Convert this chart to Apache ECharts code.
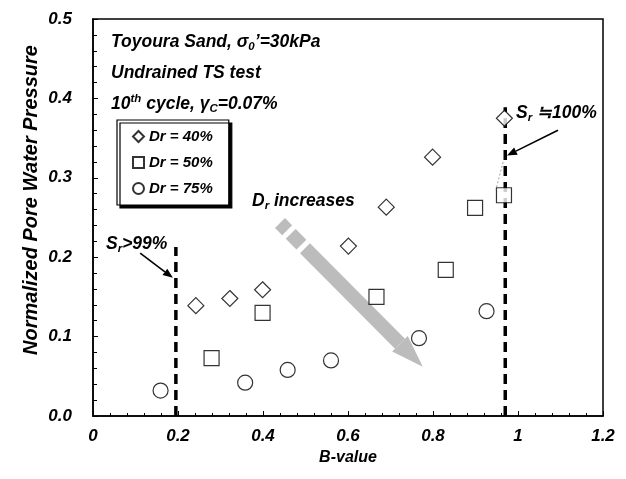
<!DOCTYPE html>
<html><head><meta charset="utf-8">
<script src="https://cdn.jsdelivr.net/npm/echarts@6/dist/echarts.min.js"></script>
<style>html,body{margin:0;padding:0;background:#fff}#c{width:626px;height:479px}</style>
</head><body><div id="c"></div>
<script>
// ---- data ----
const seriesNames = ['Dr = 40%', 'Dr = 50%', 'Dr = 75%'];
const dr40B = [0.242, 0.322, 0.399, 0.601, 0.690, 0.799, 0.968];
const dr40P = [0.139, 0.148, 0.159, 0.214, 0.263, 0.326, 0.375];
const dr50B = [0.279, 0.399, 0.667, 0.830, 0.899, 0.967];
const dr50P = [0.073, 0.130, 0.150, 0.184, 0.262, 0.278];
const dr75B = [0.159, 0.358, 0.458, 0.560, 0.767, 0.926];
const dr75P = [0.032, 0.042, 0.058, 0.070, 0.098, 0.132];
const xTicks = [0, 0.2, 0.4, 0.6, 0.8, 1, 1.2];
const yTicks = [0, 0.1, 0.2, 0.3, 0.4, 0.5];
const srLineB = [0.195, 0.97];
const srLineTop = [0.213, 0.389];
// annotation anchors (data coordinates)
const arrowSr99 = [[0.111, 0.205], [0.188, 0.174]];
const arrowSr100 = [[1.094, 0.360], [0.974, 0.328]];
const arrowDr = [[0.440, 0.243], [0.776, 0.062]];

const FF = "'Liberation Sans', Arial, sans-serif";
const chart = echarts.init(document.getElementById('c'), null, {renderer: 'canvas'});
const zip = (a, b) => a.map((v, i) => [v, b[i]]);
const sym = {color: '#fff', borderColor: '#000', borderWidth: 1.2};
const bi = (size) => ({fontFamily: FF, fontSize: size, fontWeight: 'bold', fontStyle: 'italic', color: '#000'});

chart.setOption({
  animation: false,
  backgroundColor: '#fff',
  grid: {left: 93, right: 23, top: 19, bottom: 63, show: true, borderColor: '#000', borderWidth: 1.5, backgroundColor: 'transparent'},
  xAxis: {
    type: 'value', min: xTicks[0], max: xTicks[xTicks.length - 1], interval: 0.2,
    name: 'B-value', nameLocation: 'middle', nameGap: 34,
    nameTextStyle: bi(16),
    axisLine: {lineStyle: {color: '#000', width: 1.5}},
    axisTick: {inside: true, length: 5, lineStyle: {color: '#000'}},
    minorTick: {show: true, splitNumber: 5, length: 3, lineStyle: {color: '#000'}},
    splitLine: {show: false},
    axisLabel: Object.assign({margin: 12, formatter: v => String(Number(v.toFixed(1)))}, bi(17))
  },
  yAxis: {
    type: 'value', min: yTicks[0], max: yTicks[yTicks.length - 1], interval: 0.1,
    axisLine: {lineStyle: {color: '#000', width: 1.5}},
    axisTick: {inside: true, length: 5, lineStyle: {color: '#000'}},
    minorTick: {show: true, splitNumber: 5, length: 4, lineStyle: {color: '#000'}},
    splitLine: {show: false},
    axisLabel: Object.assign({margin: 21, formatter: v => v.toFixed(1)}, bi(17))
  },
  legend: {
    orient: 'vertical', left: 117, top: 120,
    padding: [9, 16, 9, 15], itemGap: 11, itemWidth: 11, itemHeight: 11,
    backgroundColor: '#fff', borderColor: '#000', borderWidth: 1.2,
    shadowColor: '#000', shadowOffsetX: 3, shadowOffsetY: 3, shadowBlur: 0,
    data: seriesNames,
    textStyle: bi(15)
  },
  series: [
    {type: 'line', data: [[srLineB[0], 0], [srLineB[0], srLineTop[0]]], symbol: 'none', silent: true,
      lineStyle: {color: '#000', width: 3.5, type: [10, 6]}},
    {type: 'line', data: [[srLineB[1], 0], [srLineB[1], srLineTop[1]]], symbol: 'none', silent: true,
      lineStyle: {color: '#000', width: 3.5, type: [10, 6]}},
    {name: seriesNames[0], type: 'scatter', symbol: 'diamond', symbolSize: 16, data: zip(dr40B, dr40P), itemStyle: sym, z: 5},
    {name: seriesNames[1], type: 'scatter', symbol: 'rect', symbolSize: 15, data: zip(dr50B, dr50P), itemStyle: sym, z: 5},
    {name: seriesNames[2], type: 'scatter', symbol: 'circle', symbolSize: 15, data: zip(dr75B, dr75P), itemStyle: sym, z: 5}
  ]
});

const ARROW_GREY = '#bcbcbc';
const px = p => chart.convertToPixel({gridIndex: 0}, p);
function blackArrow(a) {
  const p0 = px(a[0]), p1 = px(a[1]);
  const dx = p1[0] - p0[0], dy = p1[1] - p0[1], L = Math.hypot(dx, dy);
  const ux = dx / L, uy = dy / L, nx = -uy, ny = ux, hl = 10, hw = 4;
  const bx = p1[0] - ux * hl, by = p1[1] - uy * hl;
  return [
    {type: 'line', shape: {x1: p0[0], y1: p0[1], x2: bx, y2: by}, style: {stroke: '#000', lineWidth: 1.6}, z: 20},
    {type: 'polygon', shape: {points: [[p1[0], p1[1]], [bx + nx * hw, by + ny * hw], [bx - nx * hw, by - ny * hw]]}, style: {fill: '#000'}, z: 20}
  ];
}
function greyArrow(a) {
  const p0 = px(a[0]), p1 = px(a[1]);
  const dx = p1[0] - p0[0], dy = p1[1] - p0[1], L = Math.hypot(dx, dy);
  const ux = dx / L, uy = dy / L, nx = -uy, ny = ux, w = 7;
  const at = (t, o) => [p0[0] + ux * L * t + nx * o, p0[1] + uy * L * t + ny * o];
  const piece = (t0, t1) => ({type: 'polygon', shape: {points: [at(t0, -w), at(t1, -w), at(t1, w), at(t0, w)]},
    style: {fill: ARROW_GREY}, z: 3});
  const th = 0.84;
  return [
    piece(0, 0.05), piece(0.075, 0.15), piece(0.175, th),
    {type: 'polygon', shape: {points: [at(th, -11), at(1, 0), at(th, 11)]}, style: {fill: ARROW_GREY}, z: 3}
  ];
}
const base = {fontFamily: FF, fontSize: 17.5, fontWeight: 'bold', fontStyle: 'italic', fill: '#000'};
const rich = {
  a: {fontFamily: FF, fontSize: 17.5, fontWeight: 'bold', fontStyle: 'italic', lineHeight: 22},
  sub: {fontFamily: FF, fontSize: 11.5, fontWeight: 'bold', fontStyle: 'italic', lineHeight: 12, verticalAlign: 'bottom'},
  sup: {fontFamily: FF, fontSize: 11.5, fontWeight: 'bold', fontStyle: 'italic', lineHeight: 12, verticalAlign: 'top'}
};
function txt(x, y, text, align) {
  return {type: 'text', x: x, y: y, z: 25,
    style: Object.assign({}, base, {text: text, rich: rich, align: align || 'left', verticalAlign: 'middle'})};
}
const els = [].concat(
  greyArrow(arrowDr),
  blackArrow(arrowSr99),
  blackArrow(arrowSr100),
  [
    {type: 'line', shape: {x1: px([0.965, 0.32])[0], y1: px([0.965, 0.32])[1], x2: px([0.948, 0.285])[0], y2: px([0.948, 0.285])[1]},
      style: {stroke: '#888', lineWidth: 0.8, lineDash: [2, 2]}, z: 20},
    txt(111, 42, '{a|Toyoura Sand, σ}{sub|0}{a|\u2019=30kPa}'),
    txt(111, 73, '{a|Undrained TS test}'),
    txt(111, 104, '{a|10}{sup|th}{a| cycle, γ}{sub|C}{a|=0.07%}'),
    txt(106, 244, '{a|S}{sub|r}{a|>99%}'),
    txt(516, 113, '{a|S}{sub|r}{a| \u2252100%}'),
    txt(252, 201, '{a|D}{sub|r}{a| increases}'),
    {type: 'text', x: 31, y: 200, rotation: Math.PI / 2, z: 25,
      style: Object.assign({}, base, {fontSize: 20, text: 'Normalized Pore Water Pressure', align: 'center', verticalAlign: 'middle'})}
  ]
);
chart.setOption({graphic: {elements: els}});
</script></body></html>
